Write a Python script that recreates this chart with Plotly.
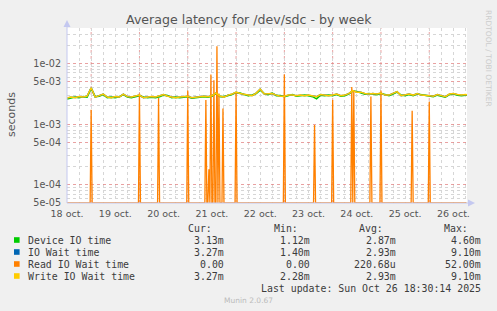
import numpy as np
import pandas as pd
import plotly.graph_objects as go

# ---------------- data ----------------
band_start = "2025-10-18 12:00"
band_step = "2h"

device_io_ms = [2.61, 2.74, 2.80, 2.74, 2.85, 2.80, 3.90, 2.85, 2.90, 3.08,
                2.74, 2.80, 2.74, 2.85, 3.08, 2.80, 2.74, 2.85, 2.96, 2.80,
                2.74, 2.80, 2.74, 2.85, 3.02, 2.96, 2.74, 2.80, 2.74, 2.80,
                2.85, 2.69, 2.74, 2.74, 2.85, 2.80, 2.90, 3.20, 2.85, 2.85,
                2.96, 3.08, 3.32, 3.26, 3.08, 2.96, 3.02, 3.20, 3.66, 3.20,
                3.08, 3.26, 2.96, 2.96, 2.85, 2.96, 3.08, 2.90, 2.96, 3.02,
                2.96, 2.85, 2.62, 3.02, 2.96, 3.02, 2.96, 3.08, 2.90, 2.96,
                3.14, 3.52, 3.45, 3.32, 3.14, 3.20, 3.14, 3.08, 3.20, 3.08,
                2.96, 3.14, 3.38, 3.02, 2.96, 3.08, 2.96, 3.14, 3.08, 2.96,
                2.90, 2.85, 3.02, 2.90, 2.80, 3.08, 3.14, 3.02, 2.96, 3.02,
                2.96]

write_io_wait_ms = [2.70, 2.80, 2.74, 2.85, 2.80, 2.90, 4.00, 2.80, 2.96, 3.14,
                    2.80, 2.74, 2.85, 2.80, 3.14, 2.85, 2.80, 2.90, 3.02, 2.74,
                    2.80, 2.85, 2.80, 2.90, 3.08, 2.90, 2.80, 2.74, 2.80, 2.85,
                    2.90, 2.74, 2.80, 2.80, 2.90, 2.85, 2.96, 3.26, 2.90, 2.80,
                    3.02, 3.14, 3.38, 3.20, 3.14, 3.02, 2.96, 3.26, 3.80, 3.14,
                    3.14, 3.20, 3.02, 2.90, 2.90, 3.02, 3.02, 2.96, 3.02, 2.96,
                    3.02, 2.90, 2.85, 3.08, 3.02, 2.96, 3.02, 3.14, 2.96, 3.02,
                    3.20, 3.59, 3.38, 3.38, 3.20, 3.14, 3.20, 3.14, 3.26, 3.02,
                    3.02, 3.20, 3.45, 2.96, 3.02, 3.14, 3.02, 3.20, 3.02, 3.02,
                    2.96, 2.90, 3.08, 2.96, 2.85, 3.14, 3.20, 3.08, 3.02, 3.08,
                    3.02]

# IO wait time coincides with the write wait time in the picture
io_wait_ms = list(write_io_wait_ms)

read_grid_start = "2025-10-18 12:00"
read_grid_end = "2025-10-26 18:30"
read_grid_step = "30min"
read_spike_times = ["2025-10-19 00:00", "2025-10-20 00:00", "2025-10-20 09:30",
                    "2025-10-21 00:00", "2025-10-21 09:00", "2025-10-21 10:30",
                    "2025-10-21 11:30", "2025-10-21 13:00", "2025-10-21 14:30",
                    "2025-10-21 15:30", "2025-10-21 17:30", "2025-10-22 00:00",
                    "2025-10-23 00:00", "2025-10-23 15:00", "2025-10-24 00:00",
                    "2025-10-24 09:30", "2025-10-24 10:30", "2025-10-24 19:00",
                    "2025-10-25 00:00", "2025-10-25 15:30", "2025-10-26 00:00"]
read_spike_ms = [1.73, 3.2, 2.7,
                 3.6, 2.5, 0.18,
                 6.6, 5.3, 19.4,
                 3.2, 1.82, 3.4,
                 6.6, 0.97, 2.5,
                 4.1, 3.6, 2.85,
                 3.6, 1.66, 2.35]

x_tick_dates = ["2025-10-18 12:00", "2025-10-19 12:00", "2025-10-20 12:00",
                "2025-10-21 12:00", "2025-10-22 12:00", "2025-10-23 12:00",
                "2025-10-24 12:00", "2025-10-25 12:00", "2025-10-26 12:00"]
x_tick_labels = ["18 oct.", "19 oct.", "20 oct.", "21 oct.", "22 oct.",
                 "23 oct.", "24 oct.", "25 oct.", "26 oct."]
y_tick_values = [5e-5, 1e-4, 5e-4, 1e-3, 5e-3, 1e-2]
y_tick_labels = ["5e-05", "1e-04", "5e-04", "1e-03", "5e-03", "1e-02"]

legend_names = ["Device IO time", "IO Wait time", "Read IO Wait time", "Write IO Wait time"]
legend_colors = ["#00CC00", "#0066B3", "#FF8000", "#FFCC00"]
legend_cur = ["3.13m", "3.27m", "0.00", "3.27m"]
legend_min = ["1.12m", "1.40m", "0.00", "2.28m"]
legend_avg = ["2.87m", "2.93m", "220.68u", "2.93m"]
legend_max = ["4.60m", "9.10m", "52.00m", "9.10m"]

title_text = "Average latency for /dev/sdc - by week"
y_title = "seconds"
last_update = "Last update: Sun Oct 26 18:30:14 2025"
footer = "Munin 2.0.67"
side_text = "RRDTOOL / TOBI OETIKER"

# ---------------- layout geometry ----------------
W, H = 497, 311
M_L, M_R, M_T, M_B = 67, 30, 28, 108
PW = W - M_L - M_R
PH = H - M_T - M_B
X_RANGE = ["2025-10-18 12:00", "2025-10-26 18:45"]
Y_MIN, Y_MAX = 5e-5, 0.0387


def px_x(px):
    return (px - M_L) / PW


def px_y(py):
    return (M_T + PH - py) / PH


# ---------------- series ----------------
band_t = pd.date_range(band_start, periods=len(device_io_ms), freq=band_step)
to_s = 1e-3
device_s = np.array(device_io_ms) * to_s
iowait_s = np.array(io_wait_ms) * to_s
write_s = np.array(write_io_wait_ms) * to_s

read_t = pd.date_range(read_grid_start, read_grid_end, freq=read_grid_step)
read_s = pd.Series(0.0, index=read_t)
for t, v in zip(read_spike_times, read_spike_ms):
    read_s[pd.Timestamp(t)] = v * to_s
# zero cannot be shown on a log axis; rrdtool draws it at the axis floor
read_plot = np.where(read_s.values > 0, read_s.values, Y_MIN)

fig = go.Figure()
fig.add_trace(go.Scatter(x=band_t, y=device_s, mode="lines", name=legend_names[0],
                         line=dict(color=legend_colors[0], width=1.6)))
fig.add_trace(go.Scatter(x=band_t, y=iowait_s, mode="lines", name=legend_names[1],
                         line=dict(color=legend_colors[1], width=1.4)))
fig.add_trace(go.Scatter(x=read_t, y=read_plot, mode="lines", name=legend_names[2],
                         line=dict(color=legend_colors[2], width=1.3)))
fig.add_trace(go.Scatter(x=band_t, y=write_s, mode="lines", name=legend_names[3],
                         line=dict(color=legend_colors[3], width=1.5)))

RED_GRID = "rgba(225,130,130,0.75)"
GREY_GRID = "#d6d6d6"

minor_y = []
for k in range(-5, -1):
    for m in [2, 3, 4, 6, 7, 8, 9]:
        v = m * 10.0 ** k
        if Y_MIN < v < Y_MAX:
            minor_y.append(v)

shapes = []
# day boundaries (major vertical grid)
for d in pd.date_range("2025-10-19", "2025-10-26", freq="D"):
    shapes.append(dict(type="line", xref="x", yref="paper", x0=d, x1=d, y0=0, y1=1,
                       line=dict(color=RED_GRID, width=1, dash="dot"), layer="below"))
# axes with arrows
AX = "#C4C8F0"
shapes.append(dict(type="line", xref="paper", yref="paper", x0=0, x1=0,
                   y0=0, y1=px_y(24), line=dict(color=AX, width=1)))
shapes.append(dict(type="line", xref="paper", yref="paper", x0=0, x1=px_x(470),
                   y0=0, y1=0, line=dict(color=AX, width=1)))
shapes.append(dict(type="path", xref="paper", yref="paper",
                   path=f"M {px_x(63.5)} {px_y(27)} L {px_x(70.5)} {px_y(27)} L {px_x(67)} {px_y(20)} Z",
                   fillcolor=AX, line=dict(width=0)))
shapes.append(dict(type="path", xref="paper", yref="paper",
                   path=f"M {px_x(468)} {px_y(199.5)} L {px_x(468)} {px_y(206.5)} L {px_x(475)} {px_y(203)} Z",
                   fillcolor=AX, line=dict(width=0)))

annotations = []
annotations.append(dict(text=title_text, x=px_x(248.5), y=px_y(19), xref="paper", yref="paper",
                        showarrow=False, xanchor="center", yanchor="middle",
                        font=dict(family="DejaVu Sans", size=12.6, color="#555555")))
annotations.append(dict(text=y_title, x=px_x(11), y=px_y(114), xref="paper", yref="paper",
                        showarrow=False, xanchor="center", yanchor="middle", textangle=-90,
                        font=dict(family="DejaVu Sans", size=11, color="#555555")))
annotations.append(dict(text=side_text, x=px_x(488), y=px_y(58), xref="paper", yref="paper",
                        showarrow=False, xanchor="center", yanchor="middle", textangle=90,
                        font=dict(family="DejaVu Sans", size=7.5, color="#cccccc")))

MONO = dict(family="DejaVu Sans Mono", size=9.9, color="#3c3c3c")
header_y = 228
for txt, xr in zip(["Cur:", "Min:", "Avg:", "Max:"], [213.5, 299.5, 384.5, 470]):
    annotations.append(dict(text=txt, x=px_x(xr), y=px_y(header_y), xref="paper", yref="paper",
                            showarrow=False, xanchor="right", yanchor="middle", font=MONO))
row_y = [240, 252, 264, 276]
for i, name in enumerate(legend_names):
    yy = row_y[i]
    shapes.append(dict(type="rect", xref="paper", yref="paper",
                       x0=px_x(14), x1=px_x(19.6), y0=px_y(yy + 2.8), y1=px_y(yy - 2.8),
                       fillcolor=legend_colors[i], line=dict(width=0)))
    annotations.append(dict(text=name, x=px_x(26), y=px_y(yy), xref="paper", yref="paper",
                            showarrow=False, xanchor="left", yanchor="middle", font=MONO))
    for txt, xr in zip([legend_cur[i], legend_min[i], legend_avg[i], legend_max[i]],
                       [225.5, 312, 397.5, 483]):
        annotations.append(dict(text=txt, x=px_x(xr), y=px_y(yy), xref="paper", yref="paper",
                                showarrow=False, xanchor="right", yanchor="middle", font=MONO))
annotations.append(dict(text=last_update, x=px_x(483), y=px_y(288), xref="paper", yref="paper",
                        showarrow=False, xanchor="right", yanchor="middle", font=MONO))
annotations.append(dict(text=footer, x=px_x(248), y=px_y(300.5), xref="paper", yref="paper",
                        showarrow=False, xanchor="center", yanchor="middle",
                        font=dict(family="DejaVu Sans", size=7.5, color="#bbbbbb")))

fig.update_layout(
    width=W, height=H, autosize=False,
    margin=dict(l=M_L, r=M_R, t=M_T, b=M_B, pad=0),
    paper_bgcolor="#F0F0F0", plot_bgcolor="#FFFFFF",
    showlegend=False,
    shapes=shapes, annotations=annotations,
    xaxis=dict(type="date", range=X_RANGE, tickmode="array", tickvals=x_tick_dates,
               ticktext=x_tick_labels, ticks="", showline=False, zeroline=False,
               showgrid=True, gridcolor=GREY_GRID, griddash="dot", gridwidth=1,
               ticklabelstandoff=3,
               tickfont=dict(family="DejaVu Sans", size=9.5, color="#555555"),
               minor=dict(tick0="2025-10-18 00:00", dtick=6 * 3600 * 1000, showgrid=True,
                          gridcolor=GREY_GRID, griddash="dot", gridwidth=1, ticks="")),
    yaxis=dict(type="log", range=[np.log10(Y_MIN), np.log10(Y_MAX)], tickmode="array",
               tickvals=y_tick_values, ticktext=y_tick_labels, ticks="", showline=False,
               zeroline=False, showgrid=True, gridcolor=RED_GRID, griddash="dot", gridwidth=1,
               ticklabelstandoff=5,
               tickfont=dict(family="DejaVu Sans", size=9.6, color="#555555"),
               minor=dict(tickmode="array", tickvals=minor_y, showgrid=True,
                          gridcolor=GREY_GRID, griddash="dot", gridwidth=1, ticks="")),
)

fig.write_html("out.html", config={"displayModeBar": False})
